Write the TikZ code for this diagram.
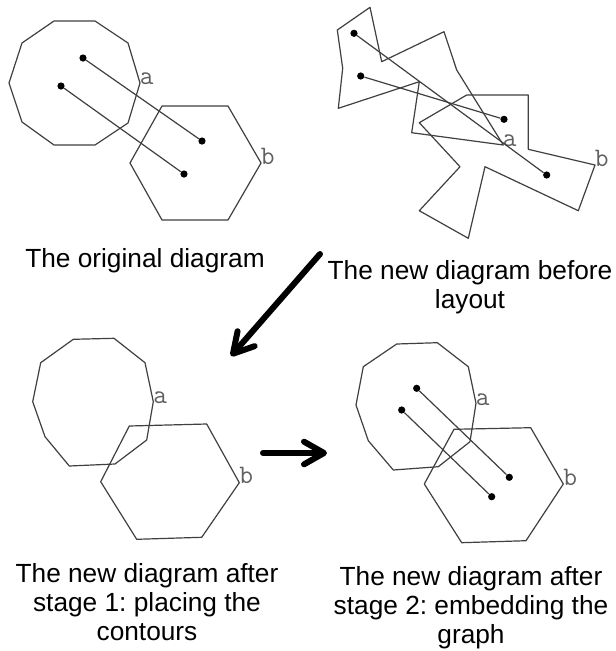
\documentclass[tikz,border=0pt]{standalone}
\usepackage{fontspec}
\setmainfont{Liberation Sans}
\usetikzlibrary{arrows.meta}
\frenchspacing
\definecolor{contourcol}{HTML}{404040}
\definecolor{labcol}{HTML}{606060}
\tikzset{
  contour/.style={draw=contourcol, line width=0.9pt, line join=round},
  edge/.style={draw=contourcol, line width=0.9pt},
  dot/.style={circle, fill=black, inner sep=0pt, minimum size=5.4pt},
  lab/.style={font=\ttfamily\fontsize{20}{20}\selectfont, text=labcol, inner sep=0pt, anchor=base west},
  caption/.style={font=\fontsize{19.7}{21.75}\selectfont, inner sep=0pt, anchor=base},
  bigarrow/.style={line width=4.5pt, line cap=round, -{Straight Barb[length=15pt, width=17pt, line cap=round, line join=round]}}
}
\newcommand{\capt}[1]{\begin{tabular}[t]{@{}c@{}}#1\end{tabular}}
\begin{document}
\begin{tikzpicture}[x=0.75pt, y=-0.75pt]
\useasboundingbox (0,0) rectangle (616,651);
\fill[white] (0,0) rectangle (616,651);

% ---------- panel 1: original diagram ----------
\draw[contour] (54,21) -- (95,21) -- (128,43) -- (140,83) -- (128,123) -- (95,145) -- (54,145) -- (22,122) -- (9,83) -- (22,43) -- cycle;
\draw[contour] (162,106) -- (228,106) -- (261,163) -- (228,220) -- (162,220) -- (130,163) -- cycle;
\node[lab] (la1) at (139.5,84) {a};
\node[lab] (lb1) at (260.5,164) {b};
\node[dot] (p1a) at (83,58) {};
\node[dot] (p1b) at (61,86) {};
\node[dot] (p1c) at (202,141) {};
\node[dot] (p1d) at (184,174) {};
\draw[edge] (p1a) -- (p1c);
\draw[edge] (p1b) -- (p1d);

% ---------- panel 2: before layout ----------
\draw[contour] (370,7.3) -- (381.7,61.7) -- (444,31.7) -- (456.7,70) -- (503.3,145) -- (411.7,132.7) -- (419.3,81.7) -- (338.3,108.3) -- (342.7,68.3) -- (337.3,30) -- cycle;
\draw[contour] (466.7,95) -- (528.3,95) -- (528.3,149.3) -- (595,165) -- (578.3,210.7) -- (485,166.7) -- (468.3,238.3) -- (419.3,210.7) -- (460,166.7) -- (419.3,122.7) -- cycle;
\node[lab] (la2) at (502.5,146) {a};
\node[lab] (lb2) at (594.5,166) {b};
\node[dot] (p2a) at (354,33.3) {};
\node[dot] (p2b) at (360.7,76) {};
\node[dot] (p2c) at (504,119.3) {};
\node[dot] (p2d) at (546.7,175) {};
\draw[edge] (p2a) -- (p2d);
\draw[edge] (p2b) -- (p2c);

% ---------- panel 3: after stage 1 ----------
\draw[contour] (73.3,339.3) -- (114,338.3) -- (145,362.7) -- (153.3,401.7) -- (146.7,440) -- (115,464) -- (69.3,466) -- (45,436.7) -- (32.7,401.7) -- (40.7,362.7) -- cycle;
\draw[contour] (129.3,426) -- (206.7,424) -- (239.3,482.7) -- (201.7,537.3) -- (136.7,539.3) -- (100.7,481.7) -- cycle;
\node[lab] (la3) at (153,403) {a};
\node[lab] (lb3) at (239,483) {b};

% ---------- panel 4: after stage 2 ----------
\draw[contour] (396.7,344) -- (437.3,342.7) -- (468.3,366.7) -- (476,403.3) -- (470,441.7) -- (438.3,466.7) -- (393.3,470) -- (368.3,440.7) -- (356,405) -- (363.3,366.7) -- cycle;
\draw[contour] (454,429.3) -- (530.7,427.7) -- (563.3,484) -- (526,540.7) -- (461.7,542.7) -- (424.3,484) -- cycle;
\node[lab] (la4) at (475.5,405) {a};
\node[lab] (lb4) at (563,485) {b};
\node[dot] (p4a) at (416.7,388.3) {};
\node[dot] (p4b) at (401.7,410) {};
\node[dot] (p4c) at (509.3,477.3) {};
\node[dot] (p4d) at (491.7,496.7) {};
\draw[edge] (p4a) -- (p4c);
\draw[edge] (p4b) -- (p4d);

% ---------- arrows ----------
\coordinate (ar1s) at (320,254);
\coordinate (ar1e) at (231,356);
\coordinate (ar2s) at (263,453);
\coordinate (ar2e) at (327,453);
\draw[bigarrow] (ar1s) -- (ar1e);
\draw[bigarrow] (ar2s) -- (ar2e);

% ---------- captions ----------
\node[caption] (c1) at (145,267) {\capt{The original diagram}};
\node[caption] (c2) at (470,279.5) {\capt{The new diagram before\\layout}};
\node[caption] (c3) at (147,582) {\capt{The new diagram after\\stage 1: placing the\\contours}};
\node[caption] (c4) at (471,585) {\capt{The new diagram after\\stage 2: embedding the\\graph}};
\end{tikzpicture}
\end{document}
